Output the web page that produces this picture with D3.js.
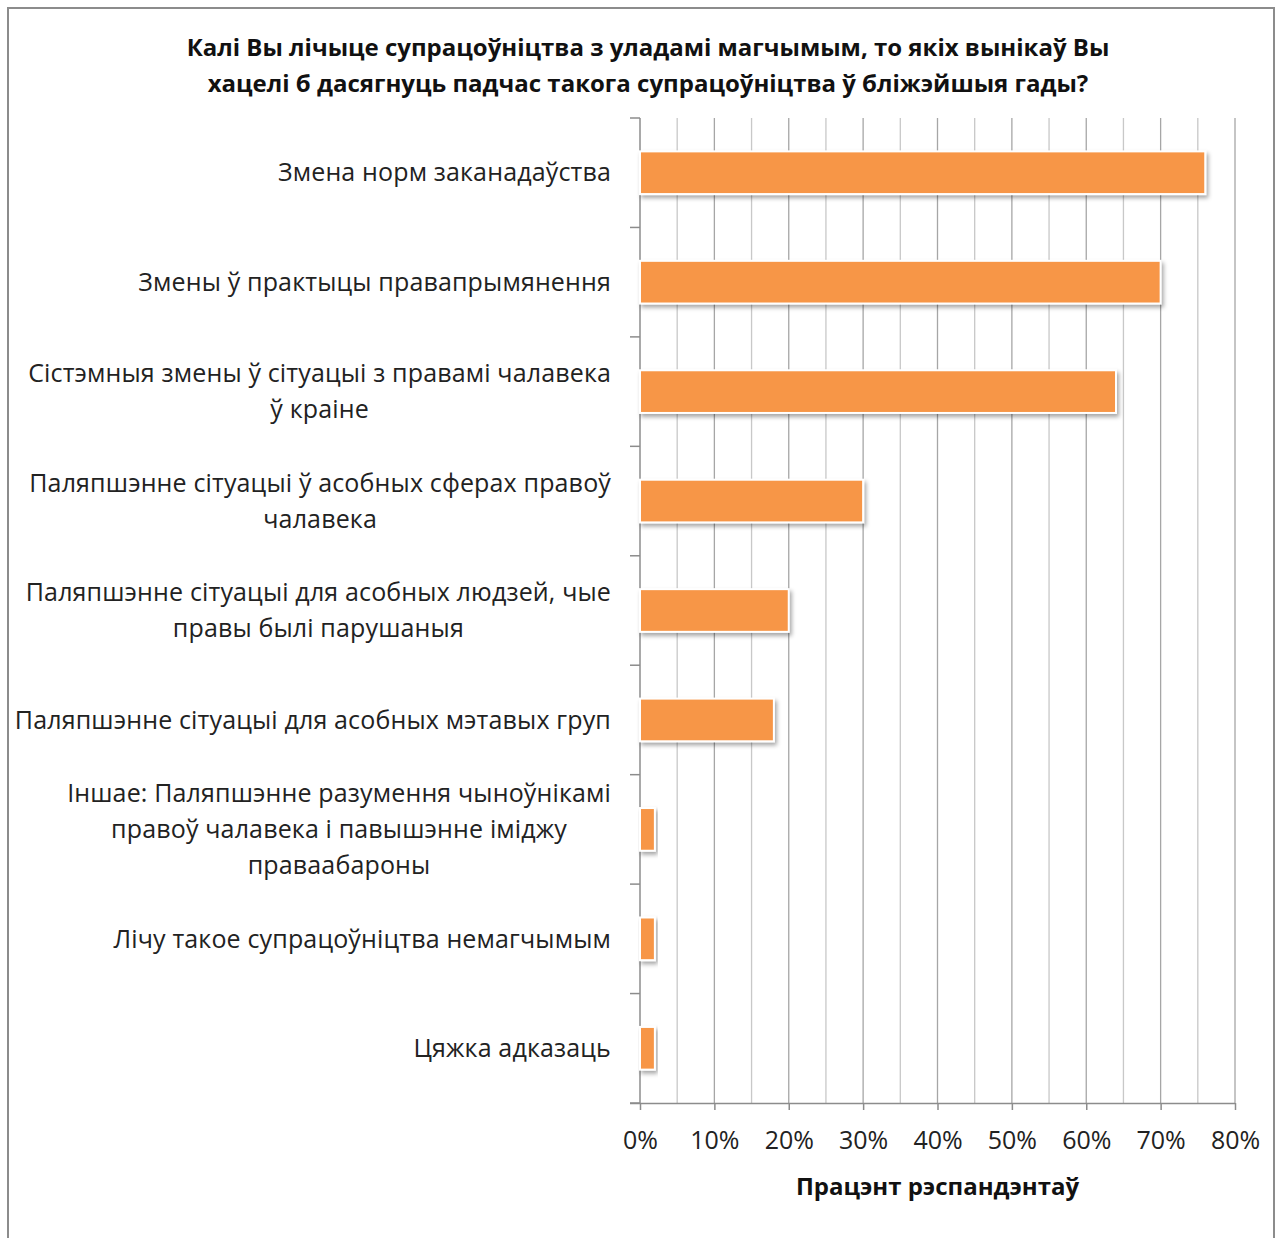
<!DOCTYPE html>
<html><head><meta charset="utf-8">
<script src="https://cdn.jsdelivr.net/npm/d3@7"></script>
<style>body{margin:0;background:#fff}svg{display:block}</style>
</head><body>
<script>
const titleLines = ["Калі Вы лічыце супрацоўніцтва з уладамі магчымым, то якіх вынікаў Вы",
                    "хацелі б дасягнуць падчас такога супрацоўніцтва ў бліжэйшыя гады?"];
const categories = [
  ["Змена норм заканадаўства"],
  ["Змены ў практыцы правапрымянення"],
  ["Сістэмныя змены ў сітуацыі з правамі чалавека", "ў краіне"],
  ["Паляпшэнне сітуацыі ў асобных сферах правоў", "чалавека"],
  ["Паляпшэнне сітуацыі для асобных людзей, чые", "правы былі парушаныя"],
  ["Паляпшэнне сітуацыі для асобных мэтавых груп"],
  ["Іншае: Паляпшэнне разумення чыноўнікамі", "правоў чалавека і павышэнне іміджу", "праваабароны"],
  ["Лічу такое супрацоўніцтва  немагчымым"],
  ["Цяжка адказаць"]
];
const values = [76, 70, 64, 30, 20, 18, 2, 2, 2];
const tickValues = [0, 10, 20, 30, 40, 50, 60, 70, 80];
const tickLabels = ["0%", "10%", "20%", "30%", "40%", "50%", "60%", "70%", "80%"];
const minorGrid = [5, 15, 25, 35, 45, 55, 65, 75];
const axisTitle = "Працэнт рэспандэнтаў";

const W = 1280, H = 1238;
const m = {left: 640, right: 45, top: 118, bottom: 135};
const svg = d3.select("body").append("svg").attr("width", W).attr("height", H);
const defs = svg.append("defs");
const f = defs.append("filter").attr("id", "sh").attr("x", "-10%").attr("y", "-30%").attr("width", "130%").attr("height", "180%");
f.append("feDropShadow").attr("dx", 2).attr("dy", 3).attr("stdDeviation", 2).attr("flood-color", "#000").attr("flood-opacity", 0.35);

// frame
svg.append("rect").attr("x", 8).attr("y", 8).attr("width", 1266).attr("height", 1240)
  .attr("fill", "none").attr("stroke", "#8c8c8c").attr("stroke-width", 2);

const x = d3.scaleLinear().domain([0, 80]).range([m.left, W - m.right]);
const y = d3.scaleBand().domain(d3.range(categories.length)).range([m.top, H - m.bottom]).paddingInner(0.61).paddingOuter(0.305);
const band = d3.scaleBand().domain(d3.range(categories.length)).range([m.top, H - m.bottom]);

// grid
svg.append("g").selectAll("line").data(minorGrid).join("line")
  .attr("x1", d => x(d)).attr("x2", d => x(d)).attr("y1", m.top).attr("y2", H - m.bottom)
  .attr("stroke", "#c8c8c8").attr("stroke-width", 1.3);
svg.append("g").selectAll("line").data(tickValues.slice(1)).join("line")
  .attr("x1", d => x(d)).attr("x2", d => x(d)).attr("y1", m.top).attr("y2", H - m.bottom)
  .attr("stroke", "#a6a6a6").attr("stroke-width", 1.3);

// x axis
const xAxis = svg.append("g").attr("transform", `translate(0,${H - m.bottom})`)
  .call(d3.axisBottom(x).tickValues(tickValues).tickFormat((d, i) => tickLabels[i]).tickSizeOuter(0).tickSize(7).tickPadding(21));
xAxis.select(".domain").attr("stroke", "#8c8c8c").attr("stroke-width", 1.5).attr("d", `M${m.left - 10},0.5H${W - m.right}`);
xAxis.selectAll(".tick line").attr("stroke", "#8c8c8c").attr("stroke-width", 1.5);
xAxis.selectAll(".tick text").attr("font-family", "Open Sans").attr("font-size", 25).attr("fill", "#222");

// y axis
const yTicks = d3.range(categories.length + 1).map(i => m.top + i * band.step());
svg.append("line").attr("x1", m.left).attr("x2", m.left).attr("y1", m.top).attr("y2", H - m.bottom)
  .attr("stroke", "#8c8c8c").attr("stroke-width", 1.5);
svg.append("g").selectAll("line").data(yTicks).join("line")
  .attr("x1", m.left - 10).attr("x2", m.left).attr("y1", d => d).attr("y2", d => d)
  .attr("stroke", "#8c8c8c").attr("stroke-width", 1.5);

// bars
svg.append("g").selectAll("rect").data(values).join("rect")
  .attr("x", x(0)).attr("y", (d, i) => y(i)).attr("width", d => x(d) - x(0)).attr("height", y.bandwidth())
  .attr("fill", "#F79646").attr("stroke", "#fff").attr("stroke-width", 2).attr("filter", "url(#sh)");

// category labels
const lineH = 36;
const lg = svg.append("g").attr("font-family", "Open Sans").attr("font-size", 25).attr("letter-spacing", 0.15).attr("fill", "#222");
categories.forEach((lines, i) => {
  const cy = band(i) + band.bandwidth() / 2;
  const g = lg.append("g");
  const texts = lines.map((t, j) => g.append("text").text(t)
    .attr("y", cy + (j - (lines.length - 1) / 2) * lineH).attr("dy", "0.35em").attr("text-anchor", "middle"));
  const wMax = d3.max(texts, t => t.node().getComputedTextLength());
  const cx = m.left - 29 - wMax / 2;
  texts.forEach(t => t.attr("x", cx));
});

// title
svg.append("g").selectAll("text").data(titleLines).join("text")
  .attr("x", 648).attr("y", (d, i) => 48 + i * 36).attr("dy", "0.35em").attr("text-anchor", "middle")
  .attr("font-family", "Open Sans").attr("font-weight", "bold").attr("font-size", 24).attr("fill", "#111").text(d => d);

svg.append("text").attr("x", (x(0) + x(80)) / 2).attr("y", 1187).attr("dy", "0.35em").attr("text-anchor", "middle")
  .attr("font-family", "Open Sans").attr("font-weight", "bold").attr("font-size", 24).attr("fill", "#111").text(axisTitle);
</script>
</body></html>
